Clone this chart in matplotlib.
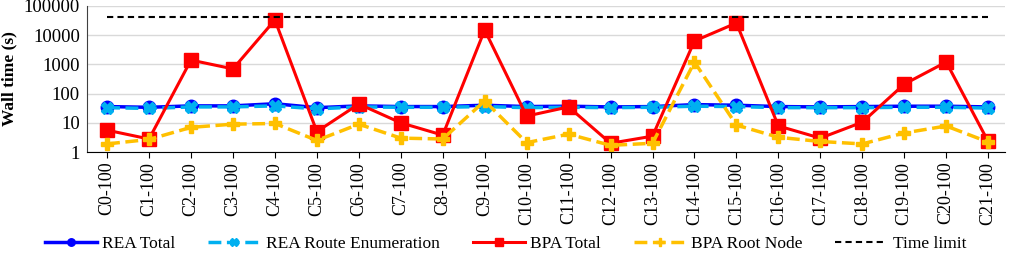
import matplotlib.pyplot as plt
import numpy as np

plt.rcParams['font.family'] = ['Liberation Serif', 'DejaVu Serif']

# instances
labels = ['C%d-100' % i for i in range(22)]

rea_total = [36, 34, 38, 38, 45, 33, 38, 36, 36, 40, 36, 37, 35, 36, 42, 40, 36, 35, 36, 37, 37, 35]
rea_route = [33, 31, 35, 35, 38, 30, 35, 34, 34, 36, 33, 34, 33, 34, 37, 36, 33, 33, 33, 34, 34, 32]
bpa_total = [5.6, 2.8, 1400, 700, 33000, 5, 44, 10, 3.8, 15000, 17, 35, 2, 3.5,
             6300, 26000, 7.8, 3, 10.5, 210, 1200, 2.3]
bpa_root = [1.9, 2.7, 7, 9, 9.5, 2.5, 9, 3, 2.8, 56, 2.1, 4.1, 1.7, 2,
            1200, 8.4, 3.2, 2.3, 1.9, 4.5, 7.8, 2.2]
time_limit = [43200] * 22

x = np.arange(len(labels))

fig = plt.figure(figsize=(10.11, 2.56), dpi=100)
ax = fig.add_axes([0.086, 0.406, 0.908, 0.571])

ax.plot(x, rea_total, color='#0000FF', lw=2.5, marker='o', ms=9, label='REA Total')
ax.plot(x, rea_route, color='#00B0F0', lw=2.5, ls='--', marker='X', ms=9,
        label='REA Route Enumeration')
ax.plot(x, bpa_total, color='#FF0000', lw=2.2, marker='s', ms=10, label='BPA Total')
ax.plot(x, bpa_root, color='#FFC000', lw=2.5, ls='--', marker='P', ms=9,
        label='BPA Root Node')
ax.plot(x, time_limit, color='black', lw=1.5, ls='--', dashes=(3, 2), label='Time limit')

ax.set_yscale('log')
ax.set_ylim(1, 100000)
ax.set_yticks([1, 10, 100, 1000, 10000, 100000])
ax.set_yticklabels(['1', '10', '100', '1000', '10000', '100000'], fontsize=13.5)
ax.minorticks_off()
ax.set_xlim(-0.48, 21.4)
ax.set_xticks(x)
ax.set_xticklabels(labels, rotation=90, fontsize=13)
ax.set_ylabel('Wall time (s)', fontsize=12.5, fontweight='bold')
ax.yaxis.set_label_coords(-0.076, 0.5)

ax.grid(axis='y', color='#d9d9d9', lw=1)
ax.set_axisbelow(True)
ax.spines['top'].set_visible(False)
ax.spines['right'].set_visible(False)
ax.spines['left'].set_color('#404040')
ax.spines['bottom'].set_color('black')
ax.tick_params(axis='y', length=0, pad=5)
ax.tick_params(axis='x', length=4, pad=3)

fig.legend(loc='center', bbox_to_anchor=(0.5, 0.047), ncol=5, frameon=False,
           fontsize=12.5, handlelength=3.0, columnspacing=1.9, handletextpad=0.3,
           markerscale=0.6)

fig.savefig('out.png', dpi=100)
